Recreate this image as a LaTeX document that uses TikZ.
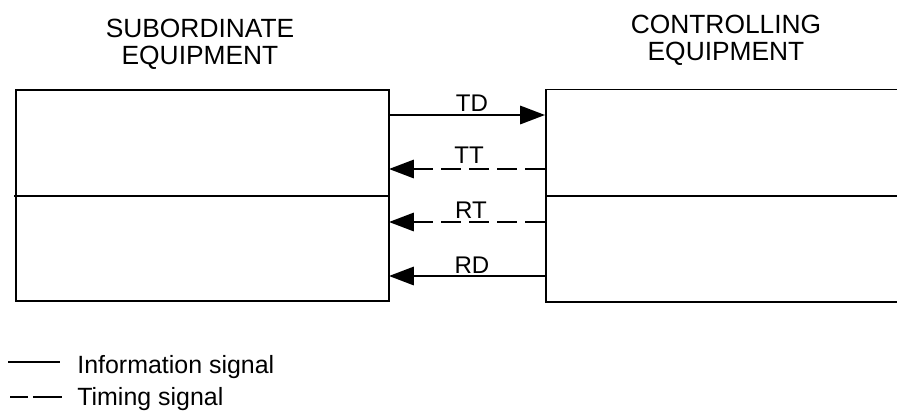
\documentclass[tikz,border=0pt]{standalone}
\usepackage{fontspec}
\setmainfont{Liberation Sans}
\usetikzlibrary{arrows.meta,positioning}

\begin{document}
\begin{tikzpicture}[
  x=0.02cm, y=-0.02cm,
  unit/.style={draw, line width=1.1pt, inner sep=0pt},
  rule/.style={line width=1.1pt},
  sig/.style={-{Triangle[length=14.2pt,width=10.5pt]}, line width=1.1pt},
  timing/.style={sig, dash pattern=on 11.4pt off 4.6pt},
  title/.style={align=center, font=\fontsize{15}{15.4}\selectfont},
  lab/.style={font=\fontsize{13.7}{16}\selectfont, inner sep=0pt},
  leg/.style={anchor=base west, inner sep=0pt, font=\fontsize{14.2}{16}\selectfont}]

\useasboundingbox (0,0) rectangle (897,410);

% ================= the two equipments ====================================
\node[unit, minimum width=7.46cm, minimum height=4.22cm] (sub) at (202.5,195.5) {};
\node[unit, minimum width=7.6cm, minimum height=4.25cm, anchor=west] (ctl) at (545,195.75) {};
\coordinate (subDiv) at (14,196);
\coordinate (ctlDiv) at (910,196);
\draw[rule] (subDiv) -- (subDiv -| sub.east);
\draw[rule] (subDiv -| ctl.west) -- (ctlDiv);

\node[title] (subName) at (200,44) {SUBORDINATE\\EQUIPMENT};
\node[title] (ctlName) at (726,40.5) {CONTROLLING\\EQUIPMENT};

% ================= the interchange circuits ==============================
\coordinate (tdS) at (389,115);  \coordinate (tdC) at (545,115);
\coordinate (ttS) at (389,169);  \coordinate (ttC) at (545,169);
\coordinate (rtS) at (389,222);  \coordinate (rtC) at (545,222);
\coordinate (rdS) at (389,276);  \coordinate (rdC) at (545,276);

\draw[sig]    (tdS) -- (tdC);
\draw[timing] (ttC) -- (ttS);
\draw[timing] (rtC) -- (rtS);
\draw[sig]    (rdC) -- (rdS);

\node[lab] (tdLab) at (472,103.5) {TD};
\node[lab] (ttLab) at (469,155)   {TT};
\node[lab] (rtLab) at (471,210)   {RT};
\node[lab] (rdLab) at (472,265)   {RD};

% ================= key ====================================================
\draw[rule] (8,362) -- (60,362);
\draw[rule, dash pattern=on 10.2pt off 2.8pt on 16.5pt off 5pt] (10,397) -- (62,397);
\node[leg] (infoKey) at (77,373) {Information signal};
\node[leg] (timeKey) at (77,405) {Timing signal};

\end{tikzpicture}
\end{document}
